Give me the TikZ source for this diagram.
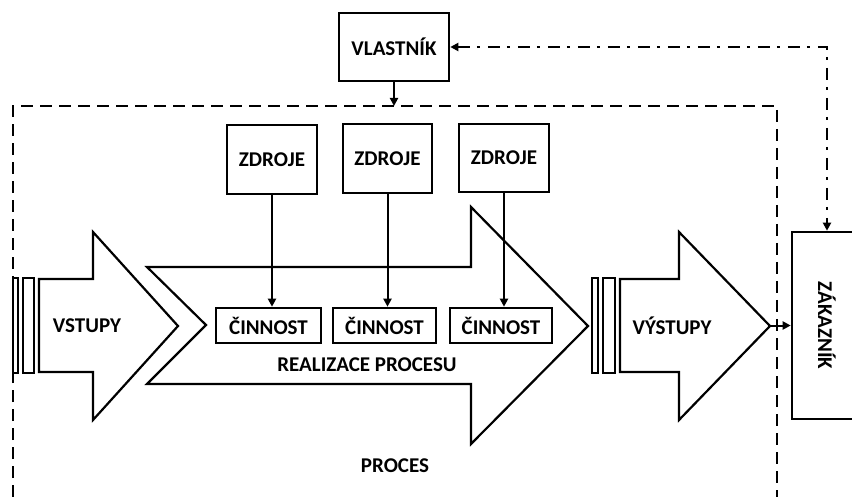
\documentclass[tikz,border=0pt]{standalone}
\usepackage{fontspec}
\setmainfont{Carlito}
\usetikzlibrary{arrows.meta}

\begin{document}
\begin{tikzpicture}[x=1pt,y=-1pt,
  every node/.style={font=\fontsize{21}{25}\selectfont\bfseries, inner sep=0pt},
  box/.style={draw, line width=2.6pt, rectangle},
  shape line/.style={draw, line width=2.2pt, line join=miter},
  link/.style={line width=2pt, -{Triangle[length=8pt,width=8pt]}},
  boundary/.style={line width=2.4pt, dash pattern=on 12pt off 7pt},
  feedback/.style={line width=2.4pt, dash pattern=on 12pt off 7pt on 3pt off 8pt,
    {Triangle[length=8pt,width=8pt]}-{Triangle[length=8pt,width=8pt]}}]

\useasboundingbox (0,0) rectangle (852,497);
\clip (0,0) rectangle (852,497);

% process boundary (open at the bottom)
\draw[boundary] (13,497) -- (13,106) -- (777,106) -- (777,497);
\coordinate (btop) at (394,106);

% owner and customer
\node[box, minimum width=110pt, minimum height=68pt] (owner) at (394,47) {VLASTNÍK};
\node[box, minimum width=70pt, minimum height=187pt] (customer) at (827,325.5)
  {\rotatebox{-90}{ZÁKAZNÍK}};

% inputs arrow with its bars
\draw[shape line] (13,278) rectangle (18,373);
\draw[shape line] (23,278) rectangle (34,373);
\draw[shape line] (39,279) -- (93,279) -- (93,232) -- (178,326) -- (93,420)
  -- (93,372) -- (39,372) -- cycle;
\node (in) at (87,326) {VSTUPY};

% process realisation chevron
\draw[shape line] (147,267) -- (471,267) -- (471,207) -- (588,326) -- (471,444)
  -- (471,384) -- (147,384) -- (206,325) -- cycle;
\node (real) at (367,365) {REALIZACE PROCESU};

% outputs arrow with its bars
\draw[shape line] (592,278) rectangle (598,373);
\draw[shape line] (603,278) rectangle (615,373);
\draw[shape line] (620,279) -- (679,279) -- (679,232) -- (770,326) -- (679,420)
  -- (679,372) -- (620,372) -- cycle;
\coordinate (outtip) at (770,325.5);
\node (out) at (672,326) {VÝSTUPY};

% resources and activities
\node[box, minimum width=90pt, minimum height=69pt] (r1) at (272,159.5) {ZDROJE};
\node[box, minimum width=89pt, minimum height=69pt] (r2) at (387.5,158.5) {ZDROJE};
\node[box, minimum width=90pt, minimum height=68pt] (r3) at (504,158) {ZDROJE};

\node[box, minimum width=105pt, minimum height=35pt] (a1) at (268.5,325.5) {ČINNOST};
\node[box, minimum width=103pt, minimum height=35pt] (a2) at (384.5,325.5) {ČINNOST};
\node[box, minimum width=102pt, minimum height=35pt] (a3) at (501,325.5) {ČINNOST};

\node (proc) at (395,466) {PROCES};

% connectors
\draw[link] (owner.south) -- (btop);
\draw[link] (r1.south) -- (r1.south |- a1.north);
\draw[link] (r2.south) -- (r2.south |- a2.north);
\draw[link] (r3.south) -- (r3.south |- a3.north);
\draw[link] (outtip) -- (customer.west);
\draw[feedback] (owner.east) -| (customer.north);

\end{tikzpicture}
\end{document}
